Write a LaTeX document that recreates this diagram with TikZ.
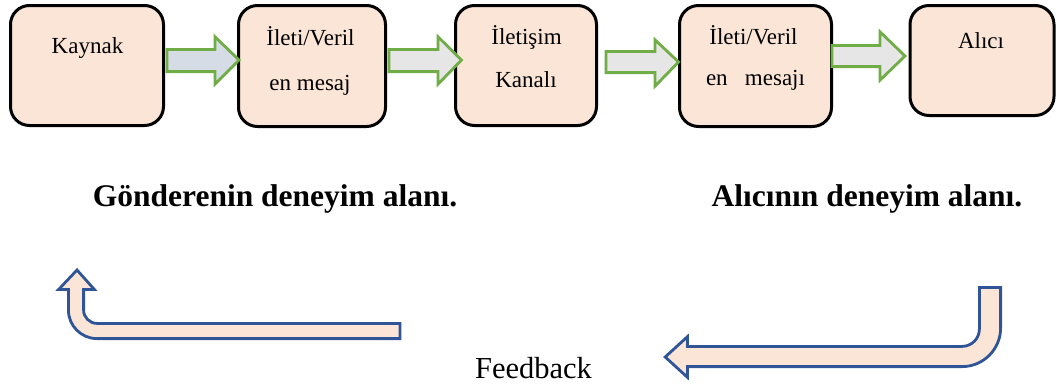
\documentclass[tikz,border=0pt]{standalone}
\usepackage{fontspec}
\setmainfont{Liberation Serif}
\definecolor{boxfill}{HTML}{FBE5D6}
\definecolor{arrgreen}{HTML}{70AD47}
\definecolor{arrblue}{HTML}{D6DCE5}
\definecolor{arrgray}{HTML}{E7E6E6}
\definecolor{bentline}{HTML}{2F5597}
\newcommand\blkarrow[9]{% style, x0, x1, xt, ys1, ys2, yh1, yh2, yt
  \draw[#1] (#2,#5) -- (#3,#5) -- (#3,#7) -- (#4,#9) -- (#3,#8) -- (#3,#6) -- (#2,#6) -- cycle;}
\begin{document}
\begin{tikzpicture}[x=1pt,y=-1pt,
  stagebox/.style={draw=black, line width=3pt, fill=boxfill, rounded corners=19pt, inner sep=0pt},
  boxtext/.style={anchor=base, inner sep=0pt, font=\fontsize{23}{27}\selectfont},
  areatext/.style={anchor=base, inner sep=0pt, font=\fontsize{31.5}{36}\selectfont\bfseries},
  fbtext/.style={anchor=base, inner sep=0pt, font=\fontsize{30.5}{36}\selectfont},
  blockarr/.style={draw=arrgreen, line width=2.8pt, line join=miter},
  bentarr/.style={draw=bentline, line width=2.8pt, fill=boxfill, line join=miter}]
\useasboundingbox (0,0) rectangle (1057,388);

% stage boxes
\node[stagebox, minimum width=153pt, minimum height=120pt] (k) at (87,65.5) {};
\node[stagebox, minimum width=147pt, minimum height=121pt] (m1) at (312,66) {};
\node[stagebox, minimum width=141pt, minimum height=120pt] (ch) at (526,65.5) {};
\node[stagebox, minimum width=152pt, minimum height=121pt] (m2) at (755.5,66) {};
\node[stagebox, minimum width=144pt, minimum height=110pt] (a) at (982,60.5) {};

% box texts
\node[boxtext] (tk) at (87.5,53) {Kaynak};
\node[boxtext] (tm1a) at (310.5,45) {İleti/Veril};
\node[boxtext] (tm1b) at (310,90) {en mesaj};
\node[boxtext] (tcha) at (526.5,44) {İletişim};
\node[boxtext] (tchb) at (526,87) {Kanalı};
\node[boxtext] (tm2a) at (753.5,44) {İleti/Veril};
\node[boxtext] (tm2b) at (755.5,85) {en\ \ \ mesajı};
\node[boxtext] (ta) at (981,48) {Alıcı};

% block arrows between boxes
\blkarrow{blockarr, fill=arrblue}{167}{215}{239}{49.4}{71.6}{36.8}{84.2}{60}
\blkarrow{blockarr, fill=arrgray}{389}{438}{461.5}{49.4}{71.6}{36.8}{84.2}{60}
\blkarrow{blockarr, fill=arrgray}{606}{655}{678.5}{51.4}{72.6}{39.8}{86.2}{62}
\blkarrow{blockarr, fill=arrgray}{832}{880}{905}{45.4}{66.6}{31.8}{80.2}{56}

% area labels
\node[areatext] (ga) at (275,206) {Gönderenin deneyim alanı.};
\node[areatext] (aa) at (867,206) {Alıcının deneyim alanı.};

% bent feedback arrows
\draw[bentarr] (400,323.4) -- (97,323.4) arc[start angle=90, end angle=180, radius=13.4]
  -- (83.6,289.4) -- (94.3,289.4) -- (77,270) -- (58.7,289.4) -- (68.4,289.4)
  -- (68.4,310) arc[start angle=180, end angle=90, radius=28.6] -- (400,338.6) -- cycle;
\draw[bentarr] (979.4,287.4) -- (1000.6,287.4) -- (1000.6,328) arc[start angle=0, end angle=90, radius=38.6]
  -- (687.4,366.6) -- (687.4,377.3) -- (665.2,357) -- (687.4,336.7) -- (687.4,346.4)
  -- (962,346.4) arc[start angle=90, end angle=0, radius=17.4] -- cycle;

\node[fbtext] (fb) at (533.5,378) {Feedback};
\end{tikzpicture}
\end{document}
